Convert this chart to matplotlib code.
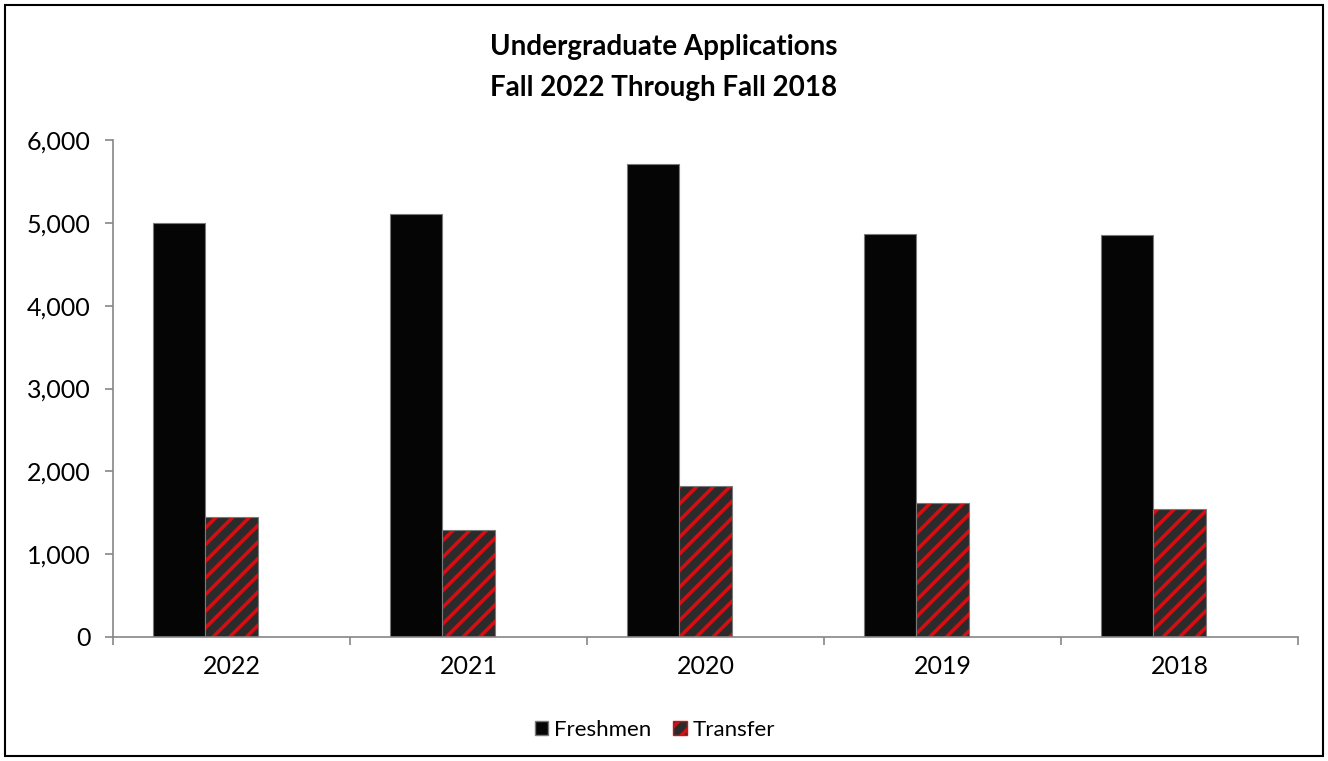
import matplotlib
matplotlib.use("Agg")
import matplotlib.pyplot as plt
from matplotlib.patches import Rectangle, Patch
from matplotlib.ticker import FuncFormatter, FixedLocator
import numpy as np

years = ["2022", "2021", "2020", "2019", "2018"]
freshmen = [5000, 5110, 5710, 4870, 4850]
transfer = [1450, 1290, 1820, 1620, 1550]
yticks = [0, 1000, 2000, 3000, 4000, 5000, 6000]
title_lines = ["Undergraduate Applications", "Fall 2022 Through Fall 2018"]

plt.rcParams['font.family'] = ['Lato', 'DejaVu Sans']
plt.rcParams['hatch.linewidth'] = 2.6

fig = plt.figure(figsize=(13.28, 7.61), dpi=100)
ax = fig.add_axes([113/1328, 1-637/761, (1298-113)/1328, (637-140)/761])

x = np.arange(len(years))
w = 0.222
grey = "#868686"

ax.bar(x - w, freshmen, width=w, color="#050505", edgecolor="#7a7a7a", linewidth=0.8, zorder=2)
ax.bar(x, transfer, width=w, color="#2b2b2b", edgecolor="#d40e12", linewidth=0, hatch="//", zorder=2)
ax.bar(x, transfer, width=w, fill=False, edgecolor="#7a7a7a", linewidth=0.8, zorder=3)

ax.set_xlim(-0.5, len(years) - 0.5)
ax.set_ylim(0, 6000)
ax.set_yticks(yticks)
ax.yaxis.set_major_formatter(FuncFormatter(lambda v, p: f"{int(v):,}"))
ax.set_xticks(x)
ax.set_xticklabels(years)
ax.xaxis.set_minor_locator(FixedLocator(np.arange(-0.5, len(years), 1.0)))
ax.tick_params(axis='x', which='major', length=0, labelsize=18, pad=13)
ax.tick_params(axis='x', which='minor', length=6, color=grey, width=1.2)
ax.tick_params(axis='y', length=6, color=grey, width=1.2, labelsize=18, pad=10)

for s in ["top", "right"]:
    ax.spines[s].set_visible(False)
for s in ["left", "bottom"]:
    ax.spines[s].set_color(grey)
    ax.spines[s].set_linewidth(1.2)

for line, ypix in zip(title_lines, [47, 88]):
    fig.text(0.5, 1 - ypix/761, line, ha="center", va="center", fontsize=20,
             fontweight="bold")

handles = [Patch(facecolor="#050505", edgecolor="#7a7a7a", label="Freshmen"),
           Patch(facecolor="#2b2b2b", edgecolor="#d40e12", hatch="//", label="Transfer")]
fig.legend(handles=handles, loc="center", bbox_to_anchor=(655/1328, 1 - 730/761),
           ncol=2, frameon=False, fontsize=16, handlelength=0.6, handleheight=0.6,
           handletextpad=0.25, columnspacing=1.0)

fig.add_artist(Rectangle((5/1328, 5/761), 1318/1328, 751/761, transform=fig.transFigure,
                         fill=False, edgecolor="black", linewidth=1.5))

fig.savefig("out.png", dpi=100)
